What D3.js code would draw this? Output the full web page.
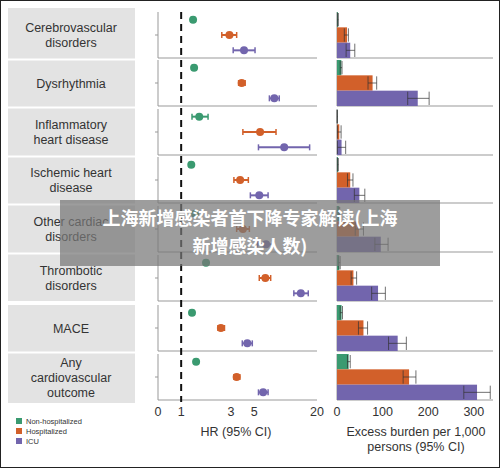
<!DOCTYPE html><html><head><meta charset="utf-8"><script src="https://cdn.jsdelivr.net/npm/d3@7"></script>
<style>body{margin:0;background:#fff}text{font-family:"Liberation Sans",Arial,sans-serif}</style></head><body><svg id="c" width="500" height="468"></svg><script>
const categories=[["Cerebrovascular","disorders"],["Dysrhythmia"],["Inflammatory","heart disease"],["Ischemic heart","disease"],["Other cardiac","disorders"],["Thrombotic","disorders"],["MACE"],["Any","cardiovascular","outcome"]];
const groups=["Non-hospitalized","Hospitalized","ICU"];
const colors=["#3a9a70","#d2602a","#7265ad"];
// HR [est, lo, hi] per category per group
const hrGreen=[[1.30,1.25,1.35],[1.33,1.28,1.38],[1.49,1.27,1.81],[1.25,1.2,1.3],[1.36,1.3,1.42],[1.73,1.66,1.8],[1.27,1.22,1.32],[1.39,1.34,1.44]];
const hrOrange=[[2.9,2.45,3.4],[3.8,3.55,4.1],[5.7,3.9,8.1],[3.67,3.2,4.4],[3.9,3.4,4.5],[6.4,5.6,7.2],[2.4,2.25,2.6],[3.4,3.2,3.65]];
const hrPurple=[[4.0,3.15,5.1],[7.8,7.0,8.7],[9.7,5.5,17],[5.6,4.6,6.8],[6.5,5.4,7.7],[14,12,16.5],[4.3,3.85,4.8],[6.1,5.5,6.8]];
// excess burden [est, lo, hi]
const ebGreen=[[2,1,3],[9.5,7,11],[0.5,0,1],[2,1,3],[5,4,6],[5,4,7],[10,7,12],[25.5,23,29]];
const ebOrange=[[22,16,25],[78,68,87],[5,1,9],[29,23,35],[48,40,58],[36,31,43],[58,47,67],[158,145,173]];
const ebPurple=[[29,20,39],[177,155,202],[10,1,19],[49,38,61],[96,83,112],[90,76,106],[133,113,152],[307,278,336]];
const hrTicks=[[0.6,"0"],[1,"1"],[3,"3"],[5,"5"],[20,"20"]];
const ebTicks=[0,100,200,300];
const hr=[hrGreen,hrOrange,hrPurple], eb=[ebGreen,ebOrange,ebPurple];

const svg=d3.select("#c");
const tops=[12,60,109,157,206,255,305,354], ph=46;
const x1=d3.scaleLog().domain([0.6,20]).range([158,317]);
const x2=d3.scaleLinear().domain([0,342]).range([337,493]);
const band=d3.scaleBand().domain([0,1,2]).range([0,ph]);
// left gray label panels
svg.append("rect").attr("x",8).attr("y",8).attr("width",127).attr("height",293).attr("fill","#e3e3e3");
svg.append("rect").attr("x",8).attr("y",305).attr("width",127).attr("height",98).attr("fill","#e3e3e3");
categories.forEach((c,i)=>{
  const t=tops[i], g=svg.append("g");
  if(i!==5&&i!==7) svg.append("line").attr("x1",8).attr("x2",135).attr("y1",t+ph+1.5).attr("y2",t+ph+1.5).attr("stroke","#fff").attr("stroke-width",2);
  const cy=t+ph/2, n=c.length;
  c.forEach((s,k)=>g.append("text").attr("x",71).attr("y",cy+(k-(n-1)/2)*15+4.5).attr("text-anchor","middle").attr("font-size",12.5).attr("fill","#333").text(s));
  // axes
  g.append("path").attr("d",`M158,${t}V${t+ph}H317`).attr("fill","none").attr("stroke","#999");
  g.append("line").attr("x1",155).attr("x2",158).attr("y1",cy).attr("y2",cy).attr("stroke","#999");
  g.append("path").attr("d",`M337,${t}V${t+ph}H493`).attr("fill","none").attr("stroke","#999");
  for(let j=0;j<3;j++){
    const y=t+band(j), bh=band.bandwidth(), yc=y+bh/2;
    const [e,lo,hi]=hr[j][i];
    g.append("line").attr("x1",x1(lo)).attr("x2",x1(hi)).attr("y1",yc).attr("y2",yc).attr("stroke",colors[j]).attr("stroke-width",2);
    [lo,hi].forEach(v=>g.append("line").attr("x1",x1(v)).attr("x2",x1(v)).attr("y1",yc-3).attr("y2",yc+3).attr("stroke",colors[j]).attr("stroke-width",1.5));
    g.append("circle").attr("cx",x1(e)).attr("cy",yc).attr("r",4).attr("fill",colors[j]);
    const [be,bl,bhh]=eb[j][i];
    g.append("rect").attr("x",x2(0)).attr("y",y).attr("width",x2(be)-x2(0)).attr("height",bh).attr("fill",colors[j]);
    g.append("line").attr("x1",x2(bl)).attr("x2",x2(bhh)).attr("y1",yc).attr("y2",yc).attr("stroke","#333").attr("stroke-opacity",0.7);
    [bl,bhh].forEach(v=>g.append("line").attr("x1",x2(v)).attr("x2",x2(v)).attr("y1",y+1).attr("y2",y+bh-1).attr("stroke","#333").attr("stroke-opacity",0.7));
  }
});
svg.append("line").attr("x1",x1(1)).attr("x2",x1(1)).attr("y1",12).attr("y2",402).attr("stroke","#111").attr("stroke-width",2).attr("stroke-dasharray","7,5");
hrTicks.forEach(([v,l])=>svg.append("text").attr("x",x1(v)).attr("y",416).attr("text-anchor","middle").attr("font-size",12.5).attr("fill","#333").text(l));
ebTicks.forEach(v=>svg.append("text").attr("x",x2(v)).attr("y",416).attr("text-anchor","middle").attr("font-size",12.5).attr("fill","#333").text(v));
svg.append("text").attr("x",236).attr("y",436).attr("text-anchor","middle").attr("font-size",12.5).attr("fill","#333").text("HR (95% CI)");
svg.append("text").attr("x",416).attr("y",436).attr("text-anchor","middle").attr("font-size",12.5).attr("fill","#333").text("Excess burden per 1,000");
svg.append("text").attr("x",416).attr("y",451).attr("text-anchor","middle").attr("font-size",12.5).attr("fill","#333").text("persons (95% CI)");
groups.forEach((gname,j)=>{
  svg.append("rect").attr("x",16).attr("y",418+j*10).attr("width",6).attr("height",6).attr("fill",colors[j]);
  svg.append("text").attr("x",26).attr("y",424+j*10).attr("font-size",7.5).attr("fill","#333").text(gname);
});
svg.append("rect").attr("x",60).attr("y",200).attr("width",380).attr("height",66).attr("fill","#777").attr("opacity",0.72);
svg.append("text").attr("x",250).attr("y",225).attr("text-anchor","middle").attr("font-size",18).attr("font-weight","bold").attr("fill","#fff").style("font-family","Noto Sans CJK SC").text("上海新增感染者首下降专家解读(上海");
svg.append("text").attr("x",250).attr("y",253).attr("text-anchor","middle").attr("font-size",18).attr("font-weight","bold").attr("fill","#fff").style("font-family","Noto Sans CJK SC").text("新增感染人数)");
svg.append("rect").attr("x",0.5).attr("y",0.5).attr("width",499).attr("height",467).attr("fill","none").attr("stroke","#222");
</script></body></html>
